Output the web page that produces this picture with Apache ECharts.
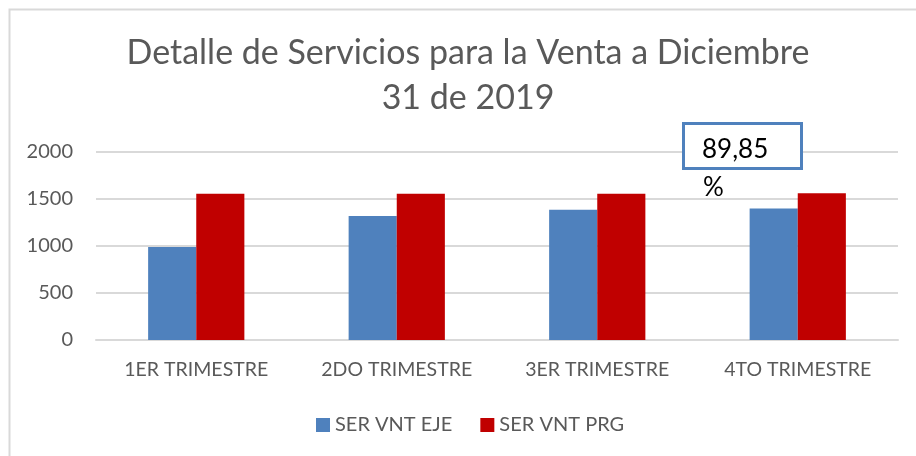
<!DOCTYPE html>
<html><head><meta charset="utf-8">
<script src="https://cdn.jsdelivr.net/npm/echarts@6/dist/echarts.min.js"></script>
<style>html,body{margin:0;padding:0;background:#fff}#c{width:916px;height:456px}</style>
</head><body><div id="c"></div>
<script>
const categories = ['1ER TRIMESTRE', '2DO TRIMESTRE', '3ER TRIMESTRE', '4TO TRIMESTRE'];
const serEje = [990, 1320, 1385, 1400];
const serPrg = [1555, 1555, 1555, 1562];
const seriesNames = ['SER VNT EJE', 'SER VNT PRG'];
const titleText = 'Detalle de Servicios para la Venta a Diciembre\n31 de 2019';
const noteTop = '89,85';
const noteBottom = '%';
const yTicks = [0, 500, 1000, 1500, 2000];

const FONT = 'Lato';
const chart = echarts.init(document.getElementById('c'), null, {renderer: 'canvas'});
chart.setOption({
  animation: false,
  backgroundColor: '#fff',
  title: {
    text: titleText, left: 463, textAlign: 'center', top: 26,
    textStyle: {fontFamily: FONT, fontSize: 34, fontWeight: 'normal', color: '#595959', lineHeight: 45}
  },
  legend: {
    top: 415, left: 316, itemWidth: 14, itemHeight: 14, itemGap: 28,
    icon: 'rect', padding: 0,
    textStyle: {fontFamily: FONT, fontSize: 20, color: '#595959', padding: [0, 0, 0, 0]},
    data: seriesNames
  },
  grid: {left: 96, right: 18, top: 152, bottom: 116},
  xAxis: {
    type: 'category', data: categories,
    axisLine: {lineStyle: {color: '#d9d9d9', width: 2}},
    axisTick: {show: false},
    axisLabel: {fontFamily: FONT, fontSize: 19.5, color: '#595959', margin: 20}
  },
  yAxis: {
    type: 'value', min: yTicks[0], max: yTicks[yTicks.length - 1], interval: 500,
    axisLine: {show: false}, axisTick: {show: false},
    splitLine: {lineStyle: {color: '#d9d9d9', width: 2}},
    axisLabel: {fontFamily: FONT, fontSize: 20, color: '#595959', margin: 23,
                formatter: function (v) { return String(v); }}
  },
  series: [
    {name: seriesNames[0], type: 'bar', data: serEje, barWidth: '24%', barGap: '0%',
     itemStyle: {color: '#4f81bd'}},
    {name: seriesNames[1], type: 'bar', data: serPrg, barWidth: '24%',
     itemStyle: {color: '#c00000'}}
  ],
  graphic: [
    {type: 'rect', left: 7, top: 7, shape: {width: 1000, height: 1000}, silent: true, z: -10,
     style: {fill: 'none', stroke: '#d9d9d9', lineWidth: 2}},
    {type: 'rect', left: 682, top: 122, shape: {width: 118, height: 45},
     style: {fill: '#fff', stroke: '#4f81bd', lineWidth: 3}, z: 100},
    {type: 'text', left: 702, top: 137, z: 101,
     style: {text: noteTop, fill: '#000', font: '26px ' + FONT}},
    {type: 'text', left: 703, top: 175, z: 101,
     style: {text: noteBottom, fill: '#000', font: '26px ' + FONT}}
  ]
});
</script></body></html>
